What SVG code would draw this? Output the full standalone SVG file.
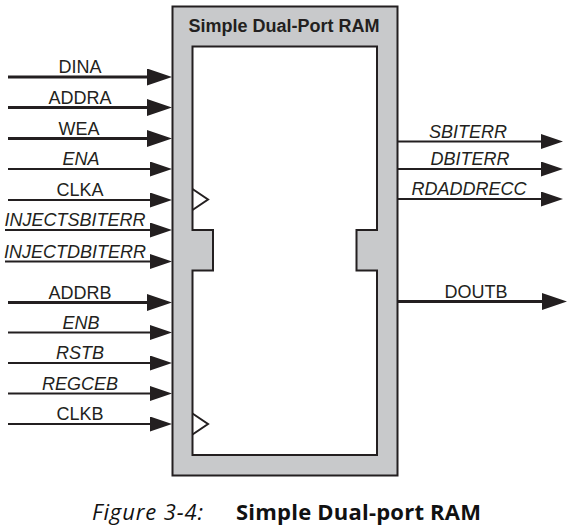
<svg xmlns="http://www.w3.org/2000/svg" width="567" height="530" viewBox="0 0 567 530">
<style>
.lbl{font-family:"Liberation Sans",Arial,sans-serif;font-size:18px;fill:#231f20;text-anchor:middle}
.it{font-style:italic}
.title{font-family:"Liberation Sans",Arial,sans-serif;font-size:18px;font-weight:bold;fill:#231f20;text-anchor:middle}
.bus{stroke:#231f20;stroke-width:3;fill:none}
.sig{stroke:#231f20;stroke-width:2;fill:none}
.cap{font-family:"Open Sans",sans-serif;font-size:22px;fill:#111}
</style>
<defs>
<marker id="ab" markerUnits="userSpaceOnUse" viewBox="0 0 25 17" markerWidth="25" markerHeight="17" refX="0" refY="8.5" orient="auto"><path d="M0,0 L25,8.5 L0,17 Z" fill="#231f20"/></marker>
<marker id="as" markerUnits="userSpaceOnUse" viewBox="0 0 22 15" markerWidth="22" markerHeight="15" refX="0" refY="7.5" orient="auto"><path d="M0,0 L22,7.5 L0,15 Z" fill="#231f20"/></marker>
</defs>
<g id="ram">
<rect x="172.5" y="6.5" width="225" height="469" fill="#c8c9cb" stroke="#231f20" stroke-width="2"/>
<path d="M192.5,46.5 H377 V230 H356.5 V270.5 H377 V455 H192.5 V270.5 H213 V230 H192.5 Z" fill="#fff" stroke="#231f20" stroke-width="2"/>
<path d="M192.5,189 L208,199.5 L192.5,210" fill="none" stroke="#231f20" stroke-width="2"/>
<path d="M192.5,413.5 L208,424 L192.5,434.5" fill="none" stroke="#231f20" stroke-width="2"/>
<text class="title" x="284" y="31.5">Simple Dual-Port RAM</text>
</g>
<g id="connectors">
<path class="bus" d="M8,77 H147" marker-end="url(#ab)"/>
<path class="bus" d="M8,107.5 H147" marker-end="url(#ab)"/>
<path class="bus" d="M8,138.5 H147" marker-end="url(#ab)"/>
<path class="sig" d="M8,169 H150" marker-end="url(#as)"/>
<path class="sig" d="M8,200 H150" marker-end="url(#as)"/>
<path class="sig" d="M5,230 H150" marker-end="url(#as)"/>
<path class="sig" d="M5,261.5 H150" marker-end="url(#as)"/>
<path class="bus" d="M8,302.5 H147" marker-end="url(#ab)"/>
<path class="sig" d="M8,332.5 H150" marker-end="url(#as)"/>
<path class="sig" d="M8,363 H150" marker-end="url(#as)"/>
<path class="sig" d="M8,393.5 H150" marker-end="url(#as)"/>
<path class="sig" d="M8,424 H150" marker-end="url(#as)"/>
<path class="sig" d="M398,141.5 H541" marker-end="url(#as)"/>
<path class="sig" d="M398,169 H541" marker-end="url(#as)"/>
<path class="sig" d="M398,199 H541" marker-end="url(#as)"/>
<path class="bus" d="M398,301.5 H542" marker-end="url(#ab)"/>
</g>
<g id="labels">
<text class="lbl" x="80" y="73">DINA</text>
<text class="lbl" x="80" y="104">ADDRA</text>
<text class="lbl" x="79" y="134.5">WEA</text>
<text class="lbl it" x="81" y="165">ENA</text>
<text class="lbl" x="80" y="196">CLKA</text>
<text class="lbl it" x="75" y="226">INJECTSBITERR</text>
<text class="lbl it" x="75" y="257.5">INJECTDBITERR</text>
<text class="lbl" x="80" y="298.5">ADDRB</text>
<text class="lbl it" x="81" y="328.5">ENB</text>
<text class="lbl it" x="80" y="359">RSTB</text>
<text class="lbl it" x="80" y="389.5">REGCEB</text>
<text class="lbl" x="80" y="420">CLKB</text>
<text class="lbl it" x="468" y="137.5">SBITERR</text>
<text class="lbl it" x="470" y="165">DBITERR</text>
<text class="lbl it" x="469" y="195">RDADDRECC</text>
<text class="lbl" x="476" y="297.5">DOUTB</text>
</g>
<g id="caption">
<text class="cap" x="92" y="520" font-style="italic" fill="#222" textLength="111" lengthAdjust="spacing">Figure 3-4:</text>
<text class="cap" x="236" y="520" font-weight="bold" font-size="22.5" textLength="245" lengthAdjust="spacing">Simple Dual-port RAM</text>
</g>
</svg>
